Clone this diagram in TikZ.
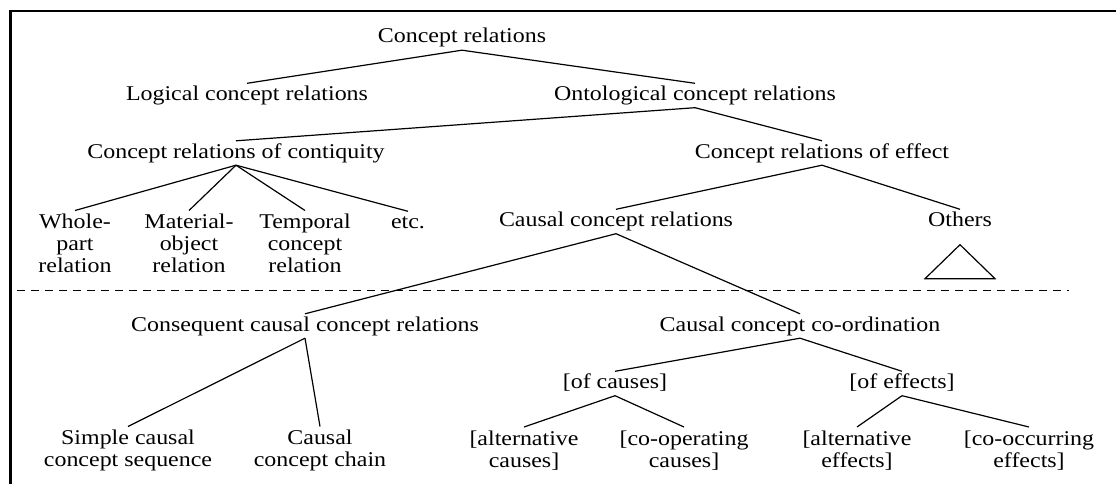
\documentclass[tikz,border=0pt]{standalone}
\usepackage{fontspec}
\setmainfont{Liberation Serif}[FakeStretch=1.14]
\usepackage{tikz}
\usetikzlibrary{positioning}
\tikzset{c-label/.style={inner xsep=0pt, inner ysep=2.5pt, text height=14.5pt, text depth=4.5pt},
c-label2/.style={inner xsep=0pt, inner ysep=3.5pt, align=center},
branch/.style={line width=1.2pt}}
\lineskiplimit=-10pt

\begin{document}
\begin{tikzpicture}[x=1pt, y=1pt, node distance=57.5pt, font=\fontsize{21}{22}\selectfont]
\path [use as bounding box, fill=white] (0,0) rectangle (1116,-484);
\draw [line width=2.5pt] (10.7,-486) -- (10.7,-11) -- (1118,-11);
\draw [line width=1pt, dash pattern=on 8pt off 6pt] (17,-290) -- (1068.5,-290);

\node (n0) [c-label] at (462,-38) {Concept relations};
\node (logic) [c-label, below of=n0, xshift=-215pt] {Logical concept relations};
\node (onto) [c-label, below of=n0, xshift=233pt] {Ontological concept relations};
\node (contig) [c-label, below of=onto, xshift=-459pt] {Concept relations of contiquity};
\node (effect) [c-label, below of=onto, xshift=127pt] {Concept relations of effect};
\node (whole) [c-label2, below of=contig, anchor=north, xshift=-161pt] {Whole-\\part\\relation};
\node (material) [c-label2, below of=contig, anchor=north, xshift=-47pt] {Material-\\object\\relation};
\node (temporal) [c-label2, below of=contig, anchor=north, xshift=69pt] {Temporal\\concept\\relation};
\node (etc) [c-label, below of=contig, xshift=172pt, yshift=-13pt] {etc.};
\node (causal) [c-label, below of=effect, xshift=-206pt, yshift=-11pt] {Causal concept relations};
\node (others) [c-label, below of=effect, xshift=138pt, yshift=-11pt] {Others};
\node (conseq) [c-label, below of=causal, xshift=-311pt, yshift=-47pt] {Consequent causal concept relations};
\node (coord) [c-label, below of=causal, xshift=184pt, yshift=-47pt] {Causal concept co-ordination};
\node (simple) [c-label2, below of=conseq, anchor=north, xshift=-177pt, yshift=-43pt] {Simple causal\\concept sequence};
\node (chain) [c-label2, below of=conseq, anchor=north, xshift=15pt, yshift=-43pt] {Causal\\concept chain};
\node (ofcause) [c-label, below of=coord, xshift=-185pt] {[of causes]};
\node (ofeffect) [c-label, below of=coord, xshift=102pt] {[of effects]};
\node (altcause) [c-label2, below of=ofcause, anchor=north, xshift=-91pt, yshift=14pt] {[alternative\\causes]};
\node (coopcause) [c-label2, below of=ofcause, anchor=north, xshift=69pt, yshift=14pt] {[co-operating\\causes]};
\node (alteffect) [c-label2, below of=ofeffect, anchor=north, xshift=-45pt, yshift=14pt] {[alternative\\effects]};
\node (cooceffect) [c-label2, below of=ofeffect, anchor=north, xshift=127pt, yshift=14pt] {[co-occurring\\effects]};

\draw [branch] (n0.south) -- (logic.north);
\draw [branch] (n0.south) -- (onto.north);
\draw [branch] (onto.south) -- (contig.north);
\draw [branch] (onto.south) -- (effect.north);
\draw [branch] (contig.south) -- (whole.north);
\draw [branch] (contig.south) -- (material.north);
\draw [branch] (contig.south) -- (temporal.north);
\draw [branch] (contig.south) -- (etc.north);
\draw [branch] (effect.south) -- (causal.north);
\draw [branch] (effect.south) -- (others.north);
\draw [branch] ([yshift=-11pt]others.south) -- ++(-35,-34) -- ++(70,0) -- cycle;
\draw [branch] (causal.south) -- (conseq.north);
\draw [branch] (causal.south) -- (coord.north);
\draw [branch] (conseq.south) -- (simple.north);
\draw [branch] (conseq.south) -- (chain.north);
\draw [branch] (coord.south) -- (ofcause.north);
\draw [branch] (coord.south) -- (ofeffect.north);
\draw [branch] (ofcause.south) -- (altcause.north);
\draw [branch] (ofcause.south) -- (coopcause.north);
\draw [branch] (ofeffect.south) -- (alteffect.north);
\draw [branch] (ofeffect.south) -- (cooceffect.north);
\end{tikzpicture}
\end{document}
